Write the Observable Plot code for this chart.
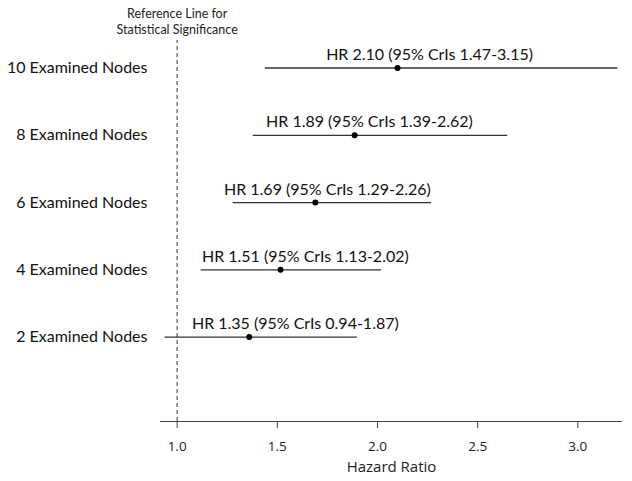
<!DOCTYPE html>
<html>
<head>
<meta charset="utf-8">
<script src="https://cdn.jsdelivr.net/npm/d3@7"></script>
<script src="https://cdn.jsdelivr.net/npm/@observablehq/plot@0.6"></script>
<style>
  html, body { margin: 0; padding: 0; background: #fff; }
  #chart { width: 632px; height: 481px; }
</style>
</head>
<body>
<div id="chart"></div>
<script>
// Data
const nodes = [10, 8, 6, 4, 2];
const hr = [2.10, 1.886, 1.69, 1.516, 1.36];
const lower = [1.44, 1.38, 1.28, 1.12, 0.94];
const upper = [3.20, 2.65, 2.27, 2.02, 1.90];
const labels = [
  "HR 2.10 (95% CrIs 1.47-3.15)",
  "HR 1.89 (95% CrIs 1.39-2.62)",
  "HR 1.69 (95% CrIs 1.29-2.26)",
  "HR 1.51 (95% CrIs 1.13-2.02)",
  "HR 1.35 (95% CrIs 0.94-1.87)"
];
const labelAt = [2.26, 1.96, 1.75, 1.64, 1.59];
const xTicks = [1.0, 1.5, 2.0, 2.5, 3.0];
const refValue = 1.0;
const refTitle = ["Reference Line for", "Statistical Significance"];

const rows = nodes.map((n, i) => ({
  n, hr: hr[i], lo: lower[i], hi: upper[i], label: labels[i], lx: labelAt[i]
}));

const xDomain = [0.917, 3.223];
const yDomain = [-0.51, 10.82];

const chart = Plot.plot({
  width: 632,
  height: 481,
  marginLeft: 160,
  marginRight: 10,
  marginTop: 40,
  marginBottom: 60,
  style: { fontFamily: "Lato, sans-serif", background: "#fff" },
  x: { domain: xDomain, range: [160, 622] },
  y: { domain: yDomain, range: [421, 40] },
  marks: [
    // dashed reference line
    Plot.ruleX([refValue], { y1: yDomain[0], y2: yDomain[1], stroke: "#333", strokeWidth: 1, strokeDasharray: "4,3" }),
    // bottom axis line
    Plot.ruleY([yDomain[0]], { x1: xDomain[0], x2: xDomain[1], stroke: "#444", strokeWidth: 1.2 }),
    Plot.axisX({
      ticks: xTicks, tickFormat: d3.format(".1f"), tickSize: 7, tickPadding: 13,
      fontSize: 13.5, fontFamily: "'Open Sans', sans-serif", fill: "#222", stroke: "#444",
      label: null
    }),
    Plot.text(["Hazard Ratio"], {
      frameAnchor: "bottom", dy: 50, fontSize: 15, fontFamily: "'Open Sans', sans-serif", fill: "#222"
    }),
    Plot.axisY({
      ticks: nodes, tickFormat: d => `${d} Examined Nodes`, tickSize: 0, tickPadding: 13,
      fontSize: 16, fill: "#111", label: null
    }),
    // CI lines
    Plot.ruleY(rows, { y: "n", x1: "lo", x2: "hi", stroke: "#333", strokeWidth: 1.4 }),
    Plot.dot(rows, { x: "hr", y: "n", r: 3, fill: "#000", stroke: null }),
    Plot.text(rows, { x: "lx", y: "n", text: "label", dy: -13, fontSize: 16, fill: "#111" }),
    // reference title
    Plot.text([refTitle.join("\n")], {
      x: refValue, y: yDomain[1], dy: -20, fontSize: 12.5, lineHeight: 1.3, fill: "#222"
    })
  ]
});
document.getElementById("chart").appendChild(chart);
</script>
</body>
</html>
